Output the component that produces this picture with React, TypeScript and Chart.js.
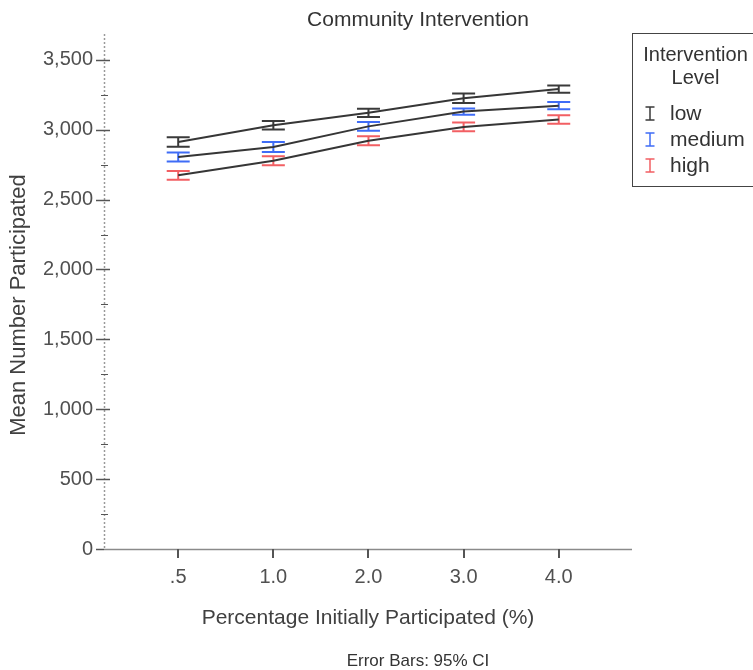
import React, { useEffect, useRef } from "react";
import { Chart, registerables } from "chart.js";

Chart.register(...registerables);

const chartTitle = "Community Intervention";
const footnote = "Error Bars: 95% CI";
const xTitle = "Percentage Initially Participated (%)";
const yTitle = "Mean Number Participated";
const legendTitle = ["Intervention", "Level"];
const categories = [".5", "1.0", "2.0", "3.0", "4.0"];
const seriesLabels = ["low", "medium", "high"];
const lowMeans = [2912, 3032, 3121, 3225, 3291];
const lowCI = [34, 31, 30, 34, 26];
const mediumMeans = [2805, 2876, 3024, 3130, 3172];
const mediumCI = [32, 36, 32, 22, 26];
const highMeans = [2674, 2778, 2921, 3020, 3073];
const highCI = [31, 32, 32, 31, 30];
const yMajorTicks = [0, 500, 1000, 1500, 2000, 2500, 3000, 3500];
const yMinorTicks = [250, 750, 1250, 1750, 2250, 2750, 3250];
const yMax = 3685;

const means = [lowMeans, mediumMeans, highMeans];
const cis = [lowCI, mediumCI, highCI];
const seriesColors = ["#3a3a3a", "#3f6cf6", "#f25f63"];
const FONT = "Arial, 'Liberation Sans', Helvetica, sans-serif";

const spssPlugin = {
  id: "spssDecor",
  beforeDatasetsDraw(chart: any) {
    const { ctx, chartArea } = chart;
    const x = chart.scales.x;
    const y = chart.scales.y;
    const L = chartArea.left;
    const B = chartArea.bottom;
    ctx.save();
    // dotted y axis
    ctx.strokeStyle = "#9a9a9a";
    ctx.lineWidth = 1.5;
    ctx.setLineDash([2, 2]);
    ctx.beginPath();
    ctx.moveTo(L + 0.5, chartArea.top);
    ctx.lineTo(L + 0.5, B);
    ctx.stroke();
    ctx.setLineDash([]);
    // x axis line
    ctx.strokeStyle = "#8a8a8a";
    ctx.lineWidth = 1.5;
    ctx.beginPath();
    ctx.moveTo(L, B + 0.5);
    ctx.lineTo(chartArea.right, B + 0.5);
    ctx.stroke();
    // y ticks
    ctx.strokeStyle = "#555";
    ctx.lineWidth = 1.5;
    yMajorTicks.forEach((v) => {
      const py = Math.round(y.getPixelForValue(v)) + 0.5;
      ctx.beginPath();
      ctx.moveTo(L - 8, py);
      ctx.lineTo(v === 0 ? L : L + 6, py);
      ctx.stroke();
    });
    ctx.lineWidth = 1;
    yMinorTicks.forEach((v) => {
      const py = Math.round(y.getPixelForValue(v)) + 0.5;
      ctx.beginPath();
      ctx.moveTo(L - 3, py);
      ctx.lineTo(L + 4, py);
      ctx.stroke();
    });
    // x ticks
    ctx.strokeStyle = "#555";
    ctx.lineWidth = 2;
    categories.forEach((_, i) => {
      const px = Math.round(x.getPixelForValue(i));
      ctx.beginPath();
      ctx.moveTo(px, B);
      ctx.lineTo(px, B + 9);
      ctx.stroke();
    });
    // error bars
    means.forEach((m, k) => {
      ctx.strokeStyle = seriesColors[k];
      ctx.lineWidth = 2;
      m.forEach((v, i) => {
        const px = x.getPixelForValue(i);
        const top = y.getPixelForValue(v + cis[k][i]);
        const bot = y.getPixelForValue(v - cis[k][i]);
        ctx.beginPath();
        ctx.moveTo(px, top);
        ctx.lineTo(px, bot);
        ctx.moveTo(px - 11.5, top);
        ctx.lineTo(px + 11.5, top);
        ctx.moveTo(px - 11.5, bot);
        ctx.lineTo(px + 11.5, bot);
        ctx.stroke();
      });
    });
    ctx.restore();
  },
  afterDraw(chart: any) {
    const { ctx } = chart;
    ctx.save();
    // title
    ctx.fillStyle = "#333";
    ctx.textAlign = "center";
    ctx.textBaseline = "alphabetic";
    ctx.font = `21px ${FONT}`;
    ctx.fillText(chartTitle, 418, 26);
    // footnote
    ctx.font = `17px ${FONT}`;
    ctx.fillText(footnote, 418, 666);
    // y title
    ctx.save();
    ctx.translate(19, 305);
    ctx.rotate(-Math.PI / 2);
    ctx.font = `22px ${FONT}`;
    ctx.fillStyle = "#404040";
    ctx.textBaseline = "middle";
    ctx.fillText(yTitle, 0, 0);
    ctx.restore();
    // legend box
    ctx.strokeStyle = "#444";
    ctx.lineWidth = 1;
    ctx.strokeRect(632.5, 33.5, 140, 153);
    ctx.fillStyle = "#333";
    ctx.font = `20px ${FONT}`;
    ctx.textAlign = "center";
    ctx.fillText(legendTitle[0], 695.5, 61);
    ctx.fillText(legendTitle[1], 695.5, 84);
    ctx.textAlign = "left";
    ctx.font = `21px ${FONT}`;
    seriesLabels.forEach((lab, k) => {
      const base = 120 + k * 26;
      ctx.strokeStyle = seriesColors[k];
      ctx.lineWidth = 1.5;
      ctx.beginPath();
      ctx.moveTo(650, base - 13);
      ctx.lineTo(650, base);
      ctx.moveTo(645.5, base - 13);
      ctx.lineTo(654.5, base - 13);
      ctx.moveTo(645.5, base);
      ctx.lineTo(654.5, base);
      ctx.stroke();
      ctx.fillStyle = "#333";
      ctx.fillText(lab, 670, base);
    });
    ctx.restore();
  },
};

export default function App() {
  const ref = useRef<HTMLCanvasElement | null>(null);
  useEffect(() => {
    document.body.style.margin = "0";
    if (!ref.current) return;
    const chart = new Chart(ref.current, {
      type: "line",
      data: {
        datasets: means.map((m, k) => ({
          label: seriesLabels[k],
          data: m.map((v, i) => ({ x: i, y: v })),
          borderColor: "#363636",
          borderWidth: 2,
          pointRadius: 0,
          pointHoverRadius: 0,
          tension: 0,
          fill: false,
        })),
      },
      options: {
        responsive: false,
        animation: false,
        events: [],
        layout: { padding: { top: 34, right: 121, left: 0, bottom: 0 } },
        plugins: {
          legend: { display: false },
          title: { display: false },
          tooltip: { enabled: false },
        },
        scales: {
          x: {
            type: "linear",
            min: -0.78,
            max: 4.77,
            afterBuildTicks: (s: any) => {
              s.ticks = categories.map((_, i) => ({ value: i }));
            },
            afterFit: (s: any) => {
              s.height = 121;
            },
            grid: { display: false, drawTicks: false },
            border: { display: false },
            ticks: {
              autoSkip: false,
              maxRotation: 0,
              padding: 16,
              color: "#505050",
              font: { family: FONT, size: 20 },
              callback: (v: any) => categories[Number(v)] ?? "",
            },
            title: {
              display: true,
              text: xTitle,
              color: "#404040",
              font: { family: FONT, size: 21 },
              padding: { top: 0, bottom: 39 },
            },
          },
          y: {
            type: "linear",
            min: 0,
            max: yMax,
            afterBuildTicks: (s: any) => {
              s.ticks = yMajorTicks.map((v) => ({ value: v }));
            },
            afterFit: (s: any) => {
              s.width = 104;
            },
            grid: { display: false, drawTicks: false },
            border: { display: false },
            ticks: {
              autoSkip: false,
              padding: 11,
              color: "#505050",
              font: { family: FONT, size: 20 },
              callback: (v: any) => Number(v).toLocaleString("en-US"),
            },
          },
        },
      },
      plugins: [spssPlugin],
    });
    return () => chart.destroy();
  }, []);
  return (
    <div style={{ width: 753, height: 670 }}>
      <canvas ref={ref} width={753} height={670} style={{ display: "block" }} />
    </div>
  );
}
